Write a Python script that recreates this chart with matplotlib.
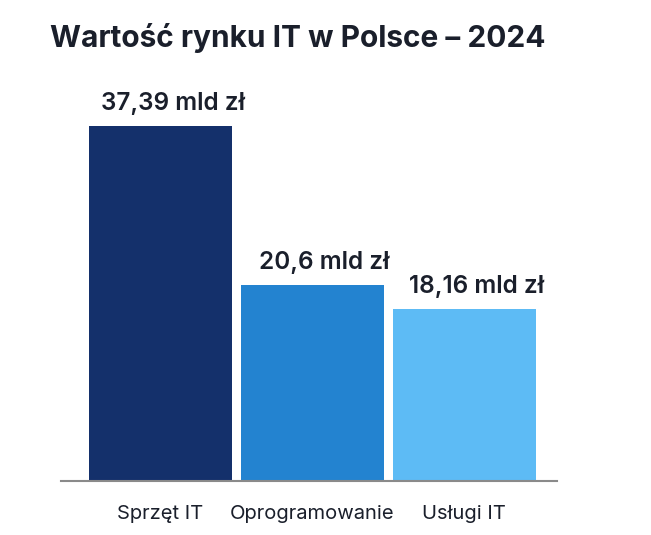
import matplotlib
matplotlib.use("Agg")
import matplotlib.pyplot as plt

categories = ["Sprzęt IT", "Oprogramowanie", "Usługi IT"]
values = [37.39, 20.6, 18.16]
value_labels = ["37,39 mld zł", "20,6 mld zł", "18,16 mld zł"]
colors = ["#14306B", "#2383D0", "#5DBBF5"]
title = "Wartość rynku IT w Polsce – 2024"

plt.rcParams['font.family'] = ['Inter', 'DejaVu Sans']

W, H = 651, 535
fig = plt.figure(figsize=(W / 100, H / 100), dpi=100)
fig.patch.set_facecolor("white")

ax_left, ax_right = 61 / W, 557 / W
ax_bottom, ax_top = 1 - 481 / H, 1 - 60 / H
ax = fig.add_axes([ax_left, ax_bottom, ax_right - ax_left, ax_top - ax_bottom])

x = list(range(len(categories)))
bars = ax.bar(x, values, width=0.94, color=colors, zorder=2)

ax.set_xlim(-0.655, 2.61)
ax.set_ylim(0, 44.35)

for b, lab in zip(bars, value_labels):
    ax.annotate(lab, (b.get_x() + b.get_width() / 2, b.get_height()),
                xytext=(12, 11), textcoords="offset pixels",
                ha="center", va="bottom", fontsize=17.5, fontweight="semibold",
                color="#1a1f2b")

for s in ["top", "right", "left"]:
    ax.spines[s].set_visible(False)
ax.spines["bottom"].set_color("#8a8a8a")
ax.spines["bottom"].set_linewidth(1.5)
ax.set_yticks([])
ax.set_xticks(x)
ax.set_xticklabels(categories, fontsize=14.5, color="#1a1f2b")
ax.tick_params(axis="x", length=0, pad=17)

fig.text(50 / W, 1 - 38 / H, title, ha="left", va="center",
         fontsize=21.5, fontweight="bold", color="#1a1f2b")

fig.savefig("out.png", dpi=100, facecolor="white")
